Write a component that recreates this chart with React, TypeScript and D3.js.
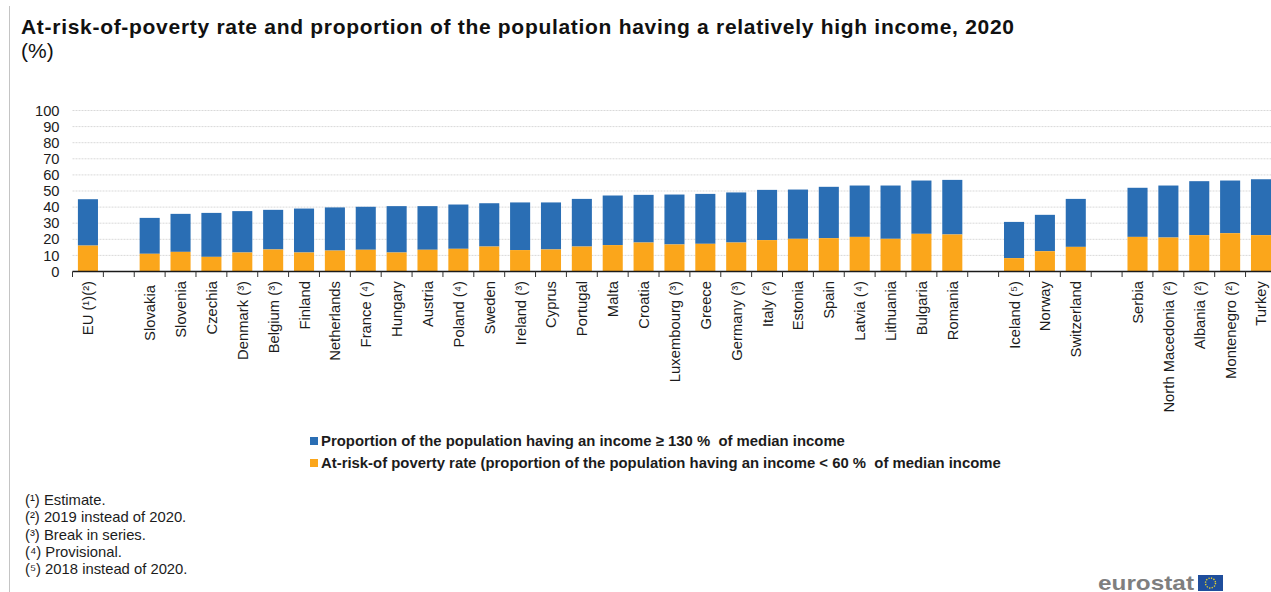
import React from "react";
import * as d3 from "d3";

const WIDTH = 1271;
const HEIGHT = 592;

const categories = [
  "EU (¹)(²)", "", "Slovakia", "Slovenia", "Czechia", "Denmark (³)", "Belgium (³)", "Finland", "Netherlands",
  "France (⁴)", "Hungary", "Austria", "Poland (⁴)", "Sweden", "Ireland (³)", "Cyprus", "Portugal", "Malta",
  "Croatia", "Luxembourg (³)", "Greece", "Germany (³)", "Italy (²)", "Estonia", "Spain", "Latvia (⁴)",
  "Lithuania", "Bulgaria", "Romania", " ", "Iceland (⁵)", "Norway", "Switzerland", "  ", "Serbia",
  "North Macedonia (²)", "Albania (²)", "Montenegro (²)", "Turkey",
];

// At-risk-of-poverty rate; null marks the empty spacer slots between country groups.
const povertyRate: (number | null)[] = [
  16.1, null, 11, 12.2, 9.1, 11.8, 13.7, 11.8, 13, 13.5, 11.8, 13.5, 14.1, 15.5, 13.3, 13.7, 15.5, 16.4,
  18, 16.8, 17.2, 18, 19.5, 20.3, 20.7, 21.5, 20.3, 23.4, 23, null, 8.3, 12.6, 15.3, null, 21.5,
  21.1, 22.6, 23.8, 22.6,
];

// Height of the stacked bar: the poverty rate plus the share above 130 % of median income.
const stackTotal: (number | null)[] = [
  44.9, null, 33.3, 35.8, 36.4, 37.5, 38.3, 39.1, 39.8, 40.2, 40.6, 40.6, 41.6, 42.4, 42.9, 42.9, 45.1, 47.2,
  47.6, 47.8, 48.2, 49.1, 50.7, 50.9, 52.6, 53.4, 53.4, 56.5, 56.9, null, 30.8, 35.2, 45.1, null, 52,
  53.4, 56.1, 56.5, 57.3,
];

const yTicks = [0, 10, 20, 30, 40, 50, 60, 70, 80, 90, 100];

const footnotes = [
  "(¹) Estimate.",
  "(²) 2019 instead of 2020.",
  "(³) Break in series.",
  "(⁴) Provisional.",
  "(⁵) 2018 instead of 2020.",
];

const BLUE = "#2a6eb4";
const ORANGE = "#fba61b";
const FONT = "'Liberation Sans', Arial, sans-serif";
const INK = "#1c1c1c";

const x = d3.scaleBand<number>()
  .domain(d3.range(categories.length))
  .range([72.5, 72.5 + 30.87 * categories.length])
  .paddingInner(0.35)
  .paddingOuter(0.175);

const y = d3.scaleLinear().domain([0, 100]).range([271.5, 110.5]);

export default function App() {
  const step = x.step();
  const slotLeft = (i: number) => 72.5 + i * step;
  return (
    <svg
      width={WIDTH}
      height={HEIGHT}
      viewBox={`0 0 ${WIDTH} ${HEIGHT}`}
      style={{ position: "absolute", left: 0, top: 0, background: "#fff", fontFamily: FONT }}
    >
      <line x1={9.5} x2={9.5} y1={6} y2={HEIGHT} stroke="#c4c4c4" strokeWidth={1} />

      <text x={21} y={34} fontSize={21} fontWeight="bold" fill="#111" textLength={993} lengthAdjust="spacing">
        At-risk-of-poverty rate and proportion of the population having a relatively high income, 2020
      </text>
      <text x={21} y={58} fontSize={21} fill="#111">(%)</text>

      {yTicks.slice(1).map((t) => (
        <line key={t} x1={72.5} x2={WIDTH} y1={y(t)} y2={y(t)} stroke="#d9d9d9" strokeDasharray="2 1" />
      ))}

      {categories.map((_, i) => {
        const low = povertyRate[i];
        const top = stackTotal[i];
        if (low === null || top === null) return null;
        return (
          <g key={i}>
            <rect x={x(i)} width={x.bandwidth()} y={y(top)} height={y(low) - y(top)} fill={BLUE} />
            <rect x={x(i)} width={x.bandwidth()} y={y(low)} height={y(0) - y(low)} fill={ORANGE} />
          </g>
        );
      })}

      <line x1={72.5} x2={WIDTH} y1={y(0)} y2={y(0)} stroke="#1a1a1a" strokeWidth={1.5} />
      {categories.map((_, i) => (
        <line key={i} x1={slotLeft(i)} x2={slotLeft(i)} y1={y(0)} y2={y(0) + 5.5} stroke="#333" />
      ))}

      {yTicks.map((t) => (
        <text key={t} x={59.5} y={y(t)} dy="0.35em" textAnchor="end" fontSize={14.7} fill={INK}>{t}</text>
      ))}

      {categories.map((c, i) =>
        c.trim() ? (
          <text
            key={i}
            transform={`translate(${(x(i) as number) + x.bandwidth() / 2 + 5.5},${c === "Slovakia" ? 285 : 281}) rotate(-90)`}
            textAnchor="end"
            fontSize={14.8}
            fill={INK}
          >
            {c}
          </text>
        ) : null
      )}

      <rect x={310} y={437} width={8} height={8} fill={BLUE} />
      <text x={321} y={446} fontSize={14.88} fontWeight="bold" fill={INK} style={{ whiteSpace: "pre" }}>
        {"Proportion of the population having an income ≥ 130 %  of median income"}
      </text>
      <rect x={310} y={459} width={8} height={8} fill={ORANGE} />
      <text x={321} y={468} fontSize={14.88} fontWeight="bold" fill={INK} style={{ whiteSpace: "pre" }}>
        {"At-risk-of poverty rate (proportion of the population having an income < 60 %  of median income"}
      </text>

      {footnotes.map((f, i) => (
        <text key={f} x={25} y={505 + i * 17.3} fontSize={14.8} fill={INK}>{f}</text>
      ))}

      <text x={1098} y={589.5} fontSize={21} fontWeight="bold" fill="#7f7f7f" textLength={96} lengthAdjust="spacingAndGlyphs">eurostat</text>
      <rect x={1198} y={575} width={25} height={16} fill="#1f4e9c" />
      <circle cx={1210.5} cy={583} r={5} fill="none" stroke="#e3d22c" strokeWidth={1.4} strokeDasharray="1.3 1.3" />
    </svg>
  );
}
